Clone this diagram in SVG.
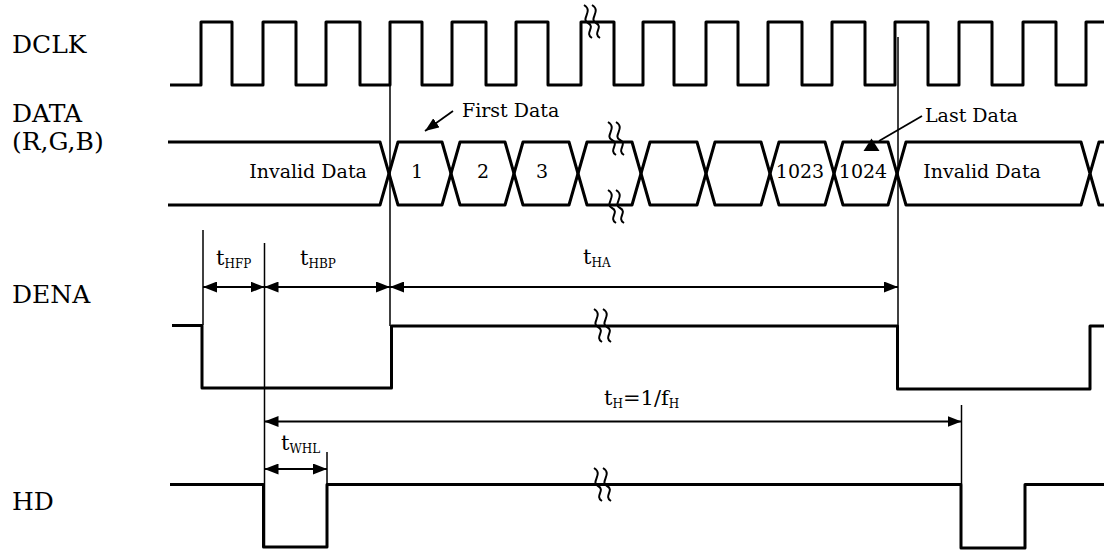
<svg xmlns="http://www.w3.org/2000/svg" width="1104" height="553" viewBox="0 0 1104 553">
<style>
.w{fill:none;stroke:#000;stroke-width:3;stroke-linejoin:round}
.t{fill:none;stroke:#000;stroke-width:1.5}
.a{fill:none;stroke:#000;stroke-width:1.8}
.br{fill:none;stroke:#000;stroke-width:2}
.lbl{font-family:"DejaVu Serif","Liberation Serif",serif;font-size:25px;fill:#000}
.txt{font-family:"DejaVu Serif","Liberation Serif",serif;font-size:19px;fill:#000}
.tm{font-family:"DejaVu Serif","Liberation Serif",serif;font-size:21px;fill:#000}
.sub{font-size:12px}
</style>
<defs>
<marker id="ah" viewBox="0 0 14 11" refX="14" refY="5.5" markerWidth="14" markerHeight="11" markerUnits="userSpaceOnUse" orient="auto-start-reverse"><path d="M0,0 L14,5.5 L0,11 z" fill="#000"/></marker>
<path id="brk" d="M0,0 C10,6 -4,14 4,18 C12,22 0,28 8,33"/>
</defs>
<rect width="1104" height="553" fill="#fff"/>

<g id="labels">
<text class="lbl" x="12" y="53">DCLK</text>
<text class="lbl" x="12" y="122">DATA</text>
<text class="lbl" x="12" y="150">(R,G,B)</text>
<text class="lbl" x="12" y="303">DENA</text>
<text class="lbl" x="12" y="510">HD</text>
</g>

<g id="dclk">
<path class="w" d="M170,85 H201 V22 H232 V85 H263 V22 H296 V85 H326 V22 H360 V85 H390 V22 H422 V85 H452 V22 H486 V85 H516 V22 H548 V85 H581 V22 H614 V85 H643 V22 H674 V85 H706 V22 H738 V85 H768 V22 H802 V85 H832 V22 H865 V85 H895 V22 H928 V85 H959 V22 H992 V85 H1023 V22 H1056 V85 H1086 V22 H1104"/>
<g class="br"><use href="#brk" x="584" y="5"/><use href="#brk" x="592" y="5"/></g>
</g>

<g id="data">
<path class="w" d="M168,142 H380 L389,173.5 L380,205 H168"/>
<path class="w" d="M389,173.5 L398,142 H442 L451,173.5 L442,205 H398 Z"/>
<path class="w" d="M451,173.5 L460,142 H505 L514,173.5 L505,205 H460 Z"/>
<path class="w" d="M514,173.5 L523,142 H569 L578,173.5 L569,205 H523 Z"/>
<path class="w" d="M578,173.5 L587,142 H632 L641,173.5 L632,205 H587 Z"/>
<path class="w" d="M641,173.5 L650,142 H697 L706,173.5 L697,205 H650 Z"/>
<path class="w" d="M706,173.5 L715,142 H761 L770,173.5 L761,205 H715 Z"/>
<path class="w" d="M770,173.5 L779,142 H825 L834,173.5 L825,205 H779 Z"/>
<path class="w" d="M834,173.5 L843,142 H888 L897,173.5 L888,205 H843 Z"/>
<path class="w" d="M897,173.5 L906,142 H1081 L1090,173.5 L1081,205 H906 Z"/>
<path class="w" d="M1090,173.5 L1099,142 H1104 M1090,173.5 L1099,205 H1104"/>
<g class="br"><use href="#brk" x="608" y="122"/><use href="#brk" x="616" y="122"/><use href="#brk" x="608" y="190"/><use href="#brk" x="616" y="190"/></g>
<text class="txt" x="308" y="178" text-anchor="middle">Invalid Data</text>
<text class="txt" x="417" y="178" text-anchor="middle">1</text>
<text class="txt" x="483" y="178" text-anchor="middle">2</text>
<text class="txt" x="542" y="178" text-anchor="middle">3</text>
<text class="txt" x="800" y="178" text-anchor="middle" font-size="18">1023</text>
<text class="txt" x="863" y="178" text-anchor="middle" font-size="18">1024</text>
<text class="txt" x="982" y="178" text-anchor="middle">Invalid Data</text>
<text class="txt" x="462" y="117">First Data</text>
<text class="txt" x="925" y="122">Last Data</text>
</g>

<g id="dena">
<path class="w" d="M172,325.5 H202 V388 H391.5 V326 H897.5 V389 H1090 V326 H1104"/>
<g class="br"><use href="#brk" x="594" y="309"/><use href="#brk" x="603" y="309"/></g>
</g>

<g id="hd">
<path class="w" d="M170,484.5 H263.5 V547 H327 V484.5 H961 V548 H1025 V484.5 H1104"/>
<g class="br"><use href="#brk" x="594" y="468"/><use href="#brk" x="603" y="468"/></g>
</g>

<g id="timing-labels">
<text class="tm" x="216" y="265">t<tspan class="sub" dy="3">HFP</tspan></text>
<text class="tm" x="300" y="265">t<tspan class="sub" dy="3">HBP</tspan></text>
<text class="tm" x="583" y="264">t<tspan class="sub" dy="3">HA</tspan></text>
<text class="tm" x="604" y="405">t<tspan class="sub" dy="3">H</tspan><tspan dy="-3">=1/f</tspan><tspan class="sub" dy="3">H</tspan></text>
<text class="tm" x="281" y="450">t<tspan class="sub" dy="3">WHL</tspan></text>
</g>

<g id="connectors">
<line class="t" x1="390" y1="85" x2="390" y2="326"/>
<line class="t" x1="898" y1="37" x2="898" y2="326"/>
<line class="t" x1="203" y1="230" x2="203" y2="325"/>
<line class="t" x1="264.5" y1="243" x2="264.5" y2="547"/>
<line class="t" x1="961.5" y1="405" x2="961.5" y2="484"/>
<line class="t" x1="327" y1="452" x2="327" y2="484"/>
<line class="a" x1="203" y1="287" x2="264.5" y2="287" marker-start="url(#ah)" marker-end="url(#ah)"/>
<line class="a" x1="264.5" y1="287" x2="390" y2="287" marker-start="url(#ah)" marker-end="url(#ah)"/>
<line class="a" x1="390" y1="287" x2="898" y2="287" marker-start="url(#ah)" marker-end="url(#ah)"/>
<line class="a" x1="264.5" y1="421.5" x2="961.5" y2="421.5" marker-start="url(#ah)" marker-end="url(#ah)"/>
<line class="a" x1="264.5" y1="469" x2="327" y2="469" marker-start="url(#ah)" marker-end="url(#ah)"/>
<line class="a" x1="453" y1="111" x2="425" y2="131" marker-end="url(#ah)"/>
<line class="a" x1="922" y1="116" x2="879" y2="141"/>
<path d="M871.5,138.5 L879.5,151 L863.5,151 Z" fill="#000"/>
</g>
</svg>
